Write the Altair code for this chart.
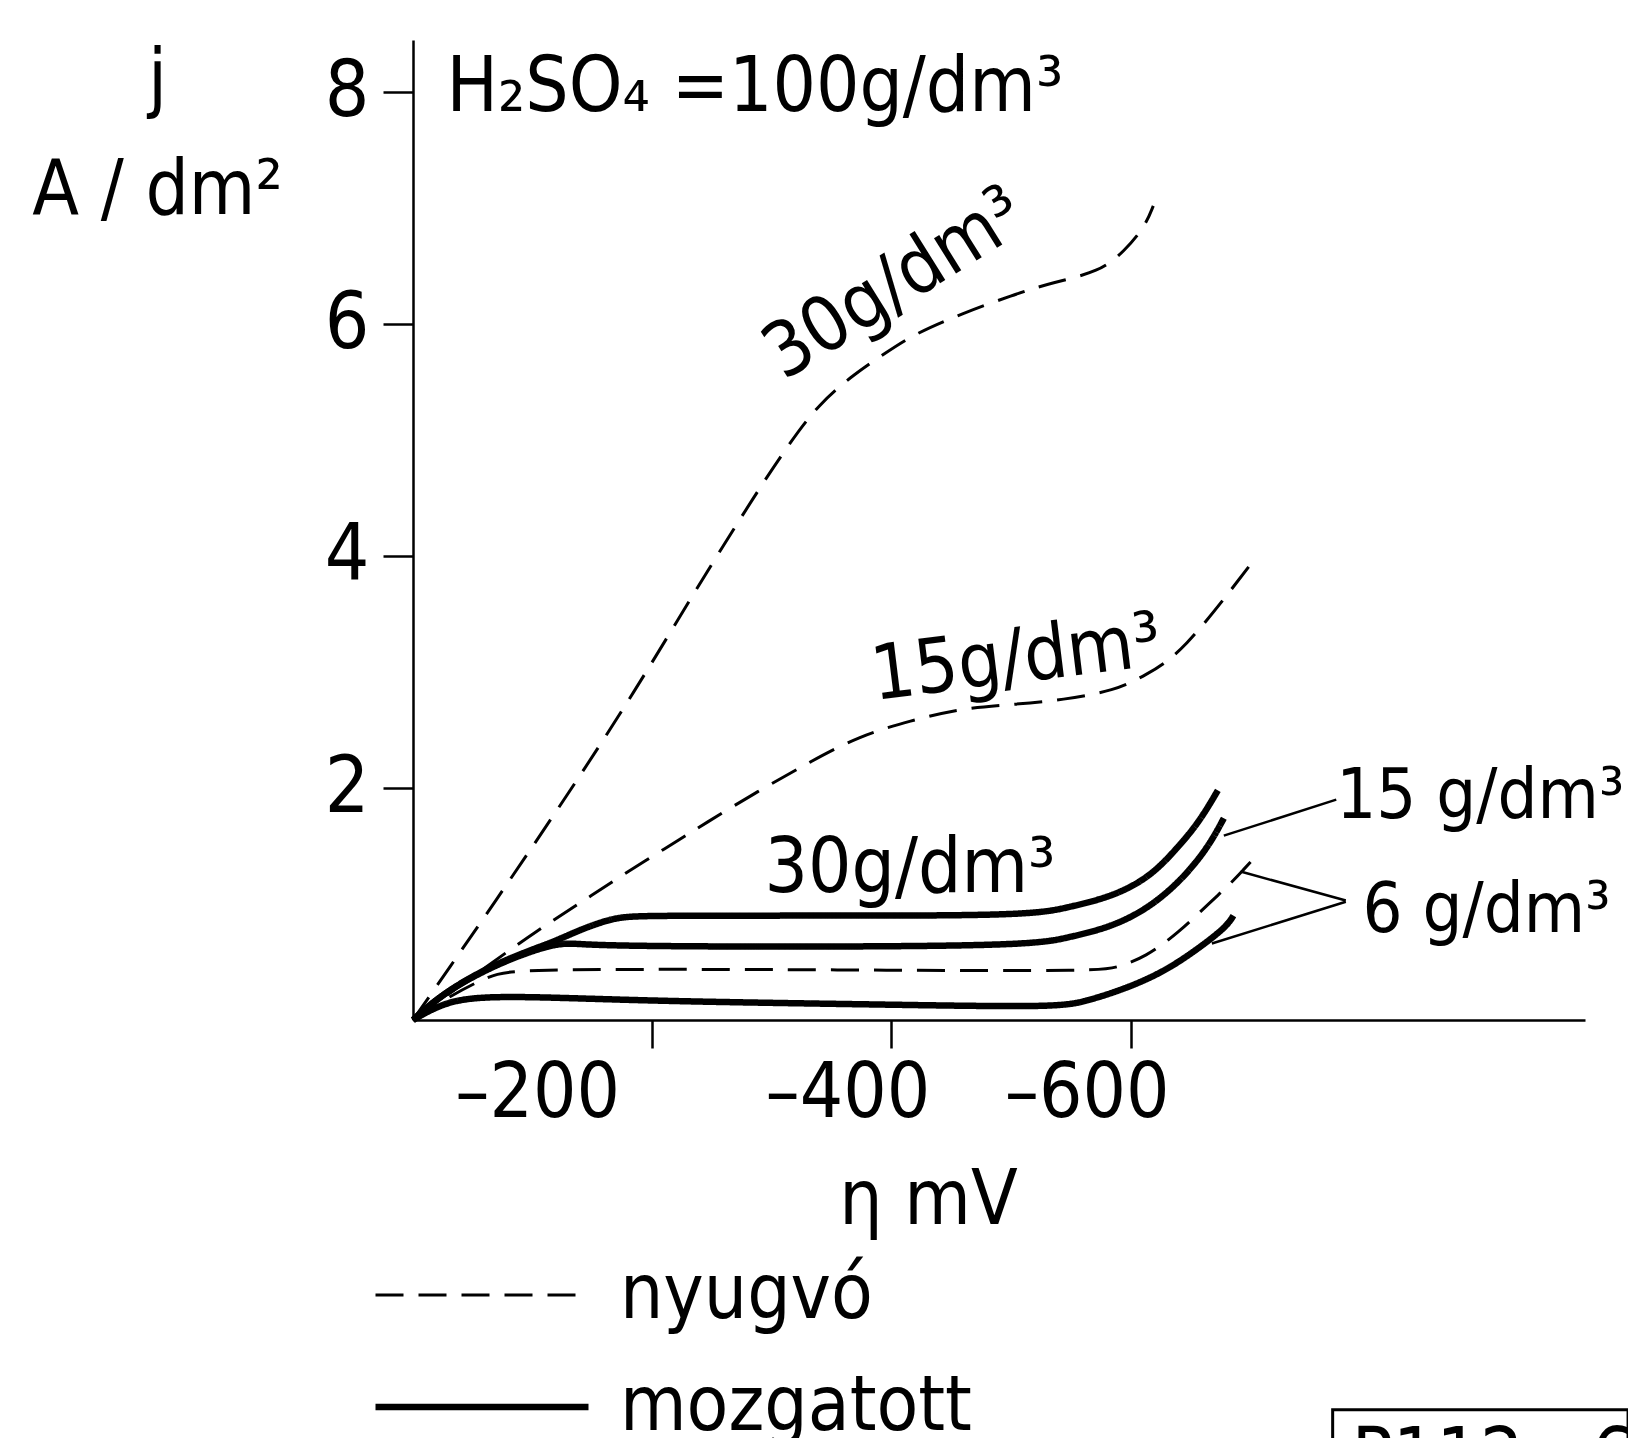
import altair as alt
import pandas as pd

FONT = "DejaVu Sans Condensed"

# ---------------- data (η in mV, j in A/dm²) ----------------
legend_labels = ["nyugvó", "mozgatott"]

curve_ids = ["30 nyugvó", "15 nyugvó", "6 nyugvó", "6 mozgatott", "15 mozgatott", "30 mozgatott"]
curve_kinds = ["nyugvó", "nyugvó", "nyugvó", "mozgatott", "mozgatott", "mozgatott"]

eta_30_still = [0, -31, -64, -128, -186, -237, -288, -314, -339, -369, -395, -420, -459, -501, -535, -574, -595, -612, -619]
j_30_still = [0, 0.46, 0.95, 1.92, 2.84, 3.72, 4.56, 4.96, 5.31, 5.57, 5.75, 5.92, 6.09, 6.25, 6.36, 6.45, 6.63, 6.84, 7.02]

eta_15_still = [0, -60, -105, -140, -172, -211, -245, -288, -331, -373, -416, -459, -501, -544, -587, -612, -643, -699]
j_15_still = [0, 0.45, 0.78, 1.01, 1.23, 1.48, 1.70, 1.97, 2.22, 2.45, 2.58, 2.69, 2.72, 2.76, 2.84, 2.97, 3.16, 3.91]

eta_6_still = [0, -30, -54, -70, -90, -200, -400, -575, -590, -612, -640, -668, -680, -694, -708]
j_6_still = [0, 0.20, 0.33, 0.40, 0.43, 0.44, 0.43, 0.42, 0.46, 0.54, 0.75, 1.03, 1.14, 1.29, 1.45]

eta_6_moved = [0, -20, -49, -131, -217, -412, -539, -562, -593, -625, -652, -680, -686]
j_6_moved = [0, 0.12, 0.21, 0.19, 0.16, 0.13, 0.11, 0.16, 0.26, 0.40, 0.58, 0.80, 0.90]

eta_15_moved = [0, -26, -71, -117, -135, -160, -298, -516, -547, -584, -616, -643, -665, -678]
j_15_moved = [0, 0.24, 0.49, 0.66, 0.66, 0.64, 0.63, 0.64, 0.71, 0.80, 0.97, 1.21, 1.49, 1.74]

eta_30_moved = [0, -26, -71, -117, -140, -162, -176, -200, -344, -516, -547, -584, -616, -638, -657, -673]
j_30_moved = [0, 0.24, 0.50, 0.67, 0.78, 0.86, 0.89, 0.90, 0.90, 0.90, 0.97, 1.06, 1.23, 1.47, 1.70, 1.98]

curve_eta = [eta_30_still, eta_15_still, eta_6_still, eta_6_moved, eta_15_moved, eta_30_moved]
curve_j = [j_30_still, j_15_still, j_6_still, j_6_moved, j_15_moved, j_30_moved]

x_ticks = [-200, -400, -600]
y_ticks = [2, 4, 6, 8]

# annotations inside the plot
ann_text = ["H₂SO₄ =100g/dm³", "30g/dm³", "15g/dm³", "30g/dm³"]
ann_eta = [-28, -310, -386, -294]
ann_j = [7.84, 5.51, 2.76, 1.10]
ann_angle = [0, 328, 353, 0]

# labels at the right edge
side_text = ["15 g/dm³", "6 g/dm³"]
side_eta = [-772, -794]
side_j = [1.74, 0.76]

# leader lines from right-hand labels to curves
lead_eta1 = [-678, -692, -668]
lead_j1 = [1.59, 1.28, 0.66]
lead_eta2 = [-772, -780, -780]
lead_j2 = [1.90, 1.03, 1.02]

# figure reference box (bottom right, cut off)
box_text = ["P112 - 6"]
box_eta1 = [-769]
box_eta2 = [-1016]
box_j1 = [-3.36]
box_j2 = [-4.6]
box_text_j = [-3.98]
box_text_eta = [-785]

# ---------------- tables ----------------
rows = []
for cid, kind, es, js in zip(curve_ids, curve_kinds, curve_eta, curve_j):
    for i, (e, v) in enumerate(zip(es, js)):
        rows.append({"curve": cid, "kind": kind, "eta": e, "j": v, "order": i})
df = pd.DataFrame(rows)

ann_df = pd.DataFrame({"text": ann_text, "eta": ann_eta, "j": ann_j, "angle": ann_angle})
side_df = pd.DataFrame({"text": side_text, "eta": side_eta, "j": side_j})
lead_df = pd.DataFrame({"e1": lead_eta1, "j1": lead_j1, "e2": lead_eta2, "j2": lead_j2})
box_df = pd.DataFrame({"e1": box_eta1, "e2": box_eta2, "j1": box_j1, "j2": box_j2,
                       "text": box_text, "te": box_text_eta, "tj": box_text_j})

x_scale = alt.Scale(domain=[0, -980], nice=False, zero=False)
y_scale = alt.Scale(domain=[0, 8.45], nice=False)

x_axis = alt.Axis(
    values=x_ticks, title="η mV", grid=False,
    labelExpr="'–' + abs(datum.value)",
    labelFont=FONT, labelFontSize=76, labelColor="black", labelPadding=8,
    labelOffset={"condition": {"test": "datum.value == -200", "value": -115}, "value": -44},
    tickSize=28, tickWidth=2.5, tickColor="black",
    domainColor="black", domainWidth=2.5,
    titleFont=FONT, titleFontSize=76, titleFontWeight="normal", titleColor="black",
    titleX=515, titleY=203, titleAlign="center", titleBaseline="alphabetic",
)
y_axis = alt.Axis(
    values=y_ticks, title=["j", "A / dm²"], grid=False, format="d",
    labelFont=FONT, labelFontSize=78, labelColor="black", labelPadding=14,
    tickSize=30, tickWidth=2.5, tickColor="black",
    domainColor="black", domainWidth=2.5,
    titleFont=FONT, titleFontSize=76, titleFontWeight="normal", titleColor="black",
    titleAngle=0, titleX=-256, titleY=62, titleAlign="center", titleBaseline="alphabetic",
    titleLineHeight=111,
)

legend = alt.Legend(
    title=None, orient="none", legendX=-41, legendY=1199,
    symbolType="stroke", symbolSize=45369, symbolStrokeColor="black",
    clipHeight=112, rowPadding=0, padding=0,
    labelFont=FONT, labelFontSize=76, labelColor="black", labelOffset=28,
    labelBaseline="middle", labelLimit=600,
)

lines = alt.Chart(df).mark_line(color="black", interpolate="basis", strokeCap="butt").encode(
    x=alt.X("eta:Q", scale=x_scale, axis=x_axis),
    y=alt.Y("j:Q", scale=y_scale, axis=y_axis),
    detail="curve:N",
    order="order:Q",
    strokeDash=alt.StrokeDash("kind:N", scale=alt.Scale(domain=legend_labels, range=[[28, 15], [1, 0]]), legend=legend),
    strokeWidth=alt.StrokeWidth("kind:N", scale=alt.Scale(domain=legend_labels, range=[3, 6.5]), legend=legend),
)

labels = alt.Chart(ann_df).mark_text(
    font=FONT, fontSize=76, color="black", align="left", baseline="alphabetic"
).encode(
    x=alt.X("eta:Q", scale=x_scale),
    y=alt.Y("j:Q", scale=y_scale),
    text="text:N",
    angle=alt.Angle("angle:Q", scale=None),
)

side_labels = alt.Chart(side_df).mark_text(
    font=FONT, fontSize=70, color="black", align="left", baseline="alphabetic"
).encode(
    x=alt.X("eta:Q", scale=x_scale),
    y=alt.Y("j:Q", scale=y_scale),
    text="text:N",
)

leaders = alt.Chart(lead_df).mark_rule(color="black", strokeWidth=2.5).encode(
    x=alt.X("e1:Q", scale=x_scale), x2="e2:Q",
    y=alt.Y("j1:Q", scale=y_scale), y2="j2:Q",
)

box = alt.Chart(box_df).mark_rect(fill=None, stroke="black", strokeWidth=3).encode(
    x=alt.X("e1:Q", scale=x_scale), x2="e2:Q",
    y=alt.Y("j1:Q", scale=y_scale), y2="j2:Q",
)
box_label = alt.Chart(box_df).mark_text(
    font=FONT, fontSize=76, color="black", align="left", baseline="alphabetic"
).encode(
    x=alt.X("te:Q", scale=x_scale),
    y=alt.Y("tj:Q", scale=y_scale),
    text="text:N",
)

chart = alt.layer(lines, labels, side_labels, leaders, box, box_label).properties(
    width=1172, height=980,
    autosize=alt.AutoSizeParams(type="none"),
    padding={"left": 413, "top": 40, "right": 43, "bottom": 418},
).configure(font=FONT, background="white").configure_view(stroke=None, strokeWidth=0)

chart.save("out.html", embed_options={"renderer": "svg", "actions": False})
